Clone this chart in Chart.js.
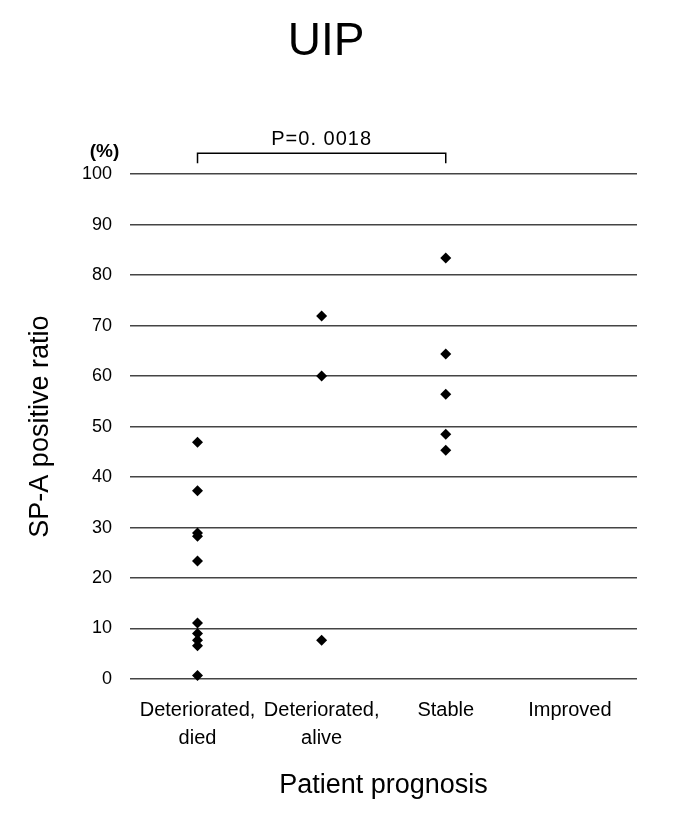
<!DOCTYPE html>
<html>
<head>
<meta charset="utf-8">
<script src="https://cdn.jsdelivr.net/npm/chart.js@4/dist/chart.umd.min.js"></script>
<style>
  html, body { margin: 0; padding: 0; background: #fff; }
  #wrap { width: 685px; height: 822px; }
</style>
</head>
<body>
<div id="wrap"><canvas id="chart" width="685" height="822"></canvas></div>
<script>
// categories on the x axis (multi-line labels as arrays)
const categories = [
    ['Deteriorated,', 'died'],
    ['Deteriorated,', 'alive'],
    'Stable',
    'Improved'
]

// SP-A positive ratio (%) per patient
const diedValues = [46.9, 37.3, 28.9, 28.3, 23.4, 11.1, 9.0, 7.7, 6.6, 0.7]
const aliveValues = [71.9, 60.0, 7.7]
const stableValues = [83.4, 64.4, 56.4, 48.5, 45.3]
const improvedValues = []

const yTicks = [0, 10, 20, 30, 40, 50, 60, 70, 80, 90, 100]

// significance bracket between two groups
const comparisonFrom = 0
const comparisonTo = 2
const comparisonLabel = 'P=0. 0018'

const FONT = "'Liberation Sans', Arial, sans-serif"

const groups = [diedValues, aliveValues, stableValues, improvedValues]
const points = []
groups.forEach((vals, i) => {
    vals.forEach(v => points.push({ x: i, y: v }))
})

const bracketPlugin = {
    id: 'bracket',
    afterDraw(chart) {
        const { ctx, scales: { x, y } } = chart
        const x0 = x.getPixelForValue(comparisonFrom)
        const x1 = x.getPixelForValue(comparisonTo)
        const yTop = y.getPixelForValue(yTicks[yTicks.length - 1]) - 21
        ctx.save()
        ctx.strokeStyle = '#000'
        ctx.lineWidth = 1.5
        ctx.beginPath()
        ctx.moveTo(x0, yTop + 10)
        ctx.lineTo(x0, yTop)
        ctx.lineTo(x1, yTop)
        ctx.lineTo(x1, yTop + 10)
        ctx.stroke()

        ctx.fillStyle = '#000'
        ctx.textAlign = 'center'
        ctx.textBaseline = 'middle'
        ctx.font = '20px ' + FONT
        ctx.letterSpacing = '1px'
        ctx.fillText(comparisonLabel, (x0 + x1) / 2, yTop - 14)
        ctx.letterSpacing = '0px'

        // unit label above the y axis
        ctx.font = 'bold 19px ' + FONT
        ctx.fillText('(%)', y.right - 25.5, yTop - 1)
        ctx.restore()
    }
}

new Chart(
    document.getElementById('chart'),
    {
        type: 'scatter',
        data: {
            datasets: [
                {
                    data: points,
                    pointStyle: 'rectRot',
                    radius: 5.5,
                    hoverRadius: 5.5,
                    backgroundColor: '#000',
                    borderColor: '#000',
                    borderWidth: 0,
                    clip: false
                }
            ]
        },
        options: {
            responsive: false,
            animation: false,
            layout: {
                padding: { left: 15, right: 48, top: 0, bottom: 0 }
            },
            plugins: {
                legend: { display: false },
                tooltip: { enabled: false },
                title: {
                    display: true,
                    text: 'UIP',
                    color: '#000',
                    font: { family: FONT, size: 46, weight: 'normal' },
                    padding: { top: 15, bottom: 104 }
                }
            },
            scales: {
                x: {
                    type: 'linear',
                    min: -0.544,
                    max: 3.541,
                    afterBuildTicks(scale) {
                        scale.ticks = categories.map((_, i) => ({ value: i }))
                    },
                    afterFit(scale) {
                        scale.height = 143
                    },
                    grid: { display: false, drawTicks: false },
                    border: { display: false },
                    ticks: {
                        color: '#000',
                        font: { family: FONT, size: 20, lineHeight: 1.4 },
                        padding: 17,
                        maxRotation: 0,
                        autoSkip: false,
                        callback: v => categories[v] ?? ''
                    },
                    title: {
                        display: true,
                        text: 'Patient prognosis',
                        color: '#000',
                        font: { family: FONT, size: 27 },
                        padding: { top: 0, bottom: 20 }
                    }
                },
                y: {
                    min: 0,
                    max: 100,
                    afterBuildTicks(scale) {
                        scale.ticks = yTicks.map(v => ({ value: v }))
                    },
                    afterFit(scale) {
                        scale.width = 115
                    },
                    grid: { color: '#444', lineWidth: 1.5, drawTicks: false },
                    border: { display: false },
                    ticks: {
                        color: '#000',
                        font: { family: FONT, size: 18 },
                        padding: 18
                    },
                    title: {
                        display: true,
                        text: 'SP-A positive ratio',
                        color: '#000',
                        font: { family: FONT, size: 27 },
                        padding: { top: 9, bottom: 0 }
                    }
                }
            }
        },
        plugins: [bracketPlugin]
    }
)
</script>
</body>
</html>
